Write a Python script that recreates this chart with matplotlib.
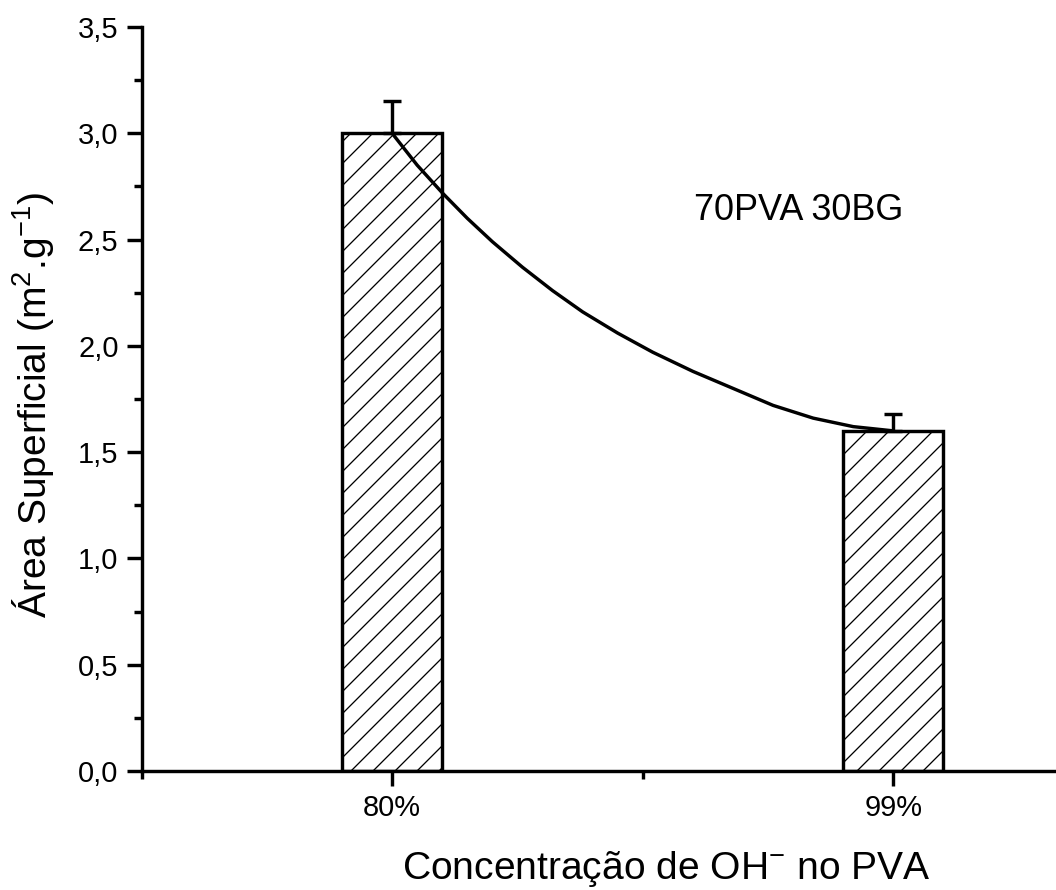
import matplotlib
matplotlib.use("Agg")
import matplotlib.pyplot as plt
from matplotlib.ticker import FixedLocator, MultipleLocator, FuncFormatter

# ---- data ----
categories = ["80%", "99%"]
values = [3.0, 1.6]
errors_up = [0.15, 0.08]
curve_x = [1.00, 1.05, 1.10, 1.15, 1.20, 1.26, 1.32, 1.38, 1.45, 1.52,
           1.60, 1.68, 1.76, 1.84, 1.92, 2.00]
curve_y = [3.00, 2.85, 2.72, 2.60, 2.49, 2.37, 2.26, 2.16, 2.06, 1.97,
           1.88, 1.80, 1.72, 1.66, 1.62, 1.60]
annotation = "70PVA 30BG"
xlabel = "Concentração de OH$^{-}$ no PVA"
ylabel = "Área Superficial (m$^{2}$.g$^{-1}$)"

DPI = 132
def pt(px):
    return px * 72.0 / DPI

plt.rcParams['font.family'] = ['Liberation Sans', 'DejaVu Sans']
plt.rcParams['mathtext.fontset'] = 'custom'
plt.rcParams['mathtext.rm'] = 'Liberation Sans'
plt.rcParams['mathtext.it'] = 'Liberation Sans:italic'
plt.rcParams['mathtext.bf'] = 'Liberation Sans:bold'
plt.rcParams['mathtext.default'] = 'rm'
plt.rcParams['hatch.linewidth'] = pt(1.3)

W, H = 1056, 890
fig = plt.figure(figsize=(W / DPI, H / DPI), dpi=DPI)
x0, x1 = 141.5, 1144.0
ybot, ytop = 771.0, 27.0
ax = fig.add_axes([x0 / W, (H - ybot) / H, (x1 - x0) / W, (ybot - ytop) / H])

pos = [1, 2]
lw = pt(3.4)
ax.bar(pos, values, width=0.2, color='white', edgecolor='black',
       linewidth=lw, hatch='//', zorder=2)
ax.errorbar(pos, values, yerr=[[0, 0], errors_up], fmt='none', ecolor='black',
            elinewidth=lw, capsize=pt(9), capthick=lw, zorder=3)
ax.plot(curve_x, curve_y, color='black', linewidth=lw, zorder=4,
        solid_capstyle='round', solid_joinstyle='round')

ax.set_xlim(0.5, 2.5)
ax.set_ylim(0, 3.5)
ax.xaxis.set_major_locator(FixedLocator(pos))
ax.set_xticklabels(categories)
ax.xaxis.set_minor_locator(FixedLocator([0.5, 1.5, 2.5]))
ax.yaxis.set_major_locator(MultipleLocator(0.5))
ax.yaxis.set_minor_locator(MultipleLocator(0.25))
ax.yaxis.set_major_formatter(FuncFormatter(lambda v, p: f"{v:.1f}".replace('.', ',')))

for s in ['top', 'right']:
    ax.spines[s].set_visible(False)
for s in ['left', 'bottom']:
    ax.spines[s].set_linewidth(lw)

ax.tick_params(axis='both', which='major', direction='out', length=pt(15),
               width=lw, labelsize=pt(29), pad=pt(8))
ax.tick_params(axis='both', which='minor', direction='out', length=pt(8), width=lw)

ax.text(1.0 + (798 - 392) / 501.0, (771 - 211) / 212.57, annotation,
        fontsize=pt(36), ha='center', va='center')

fig.text(402 / W, 1 - 869 / H, xlabel, fontsize=pt(39), ha='left', va='center')
fig.text(33 / W, 1 - 405 / H, ylabel, fontsize=pt(39), ha='center', va='center',
         rotation=90)

fig.savefig("out.png", dpi=DPI)
